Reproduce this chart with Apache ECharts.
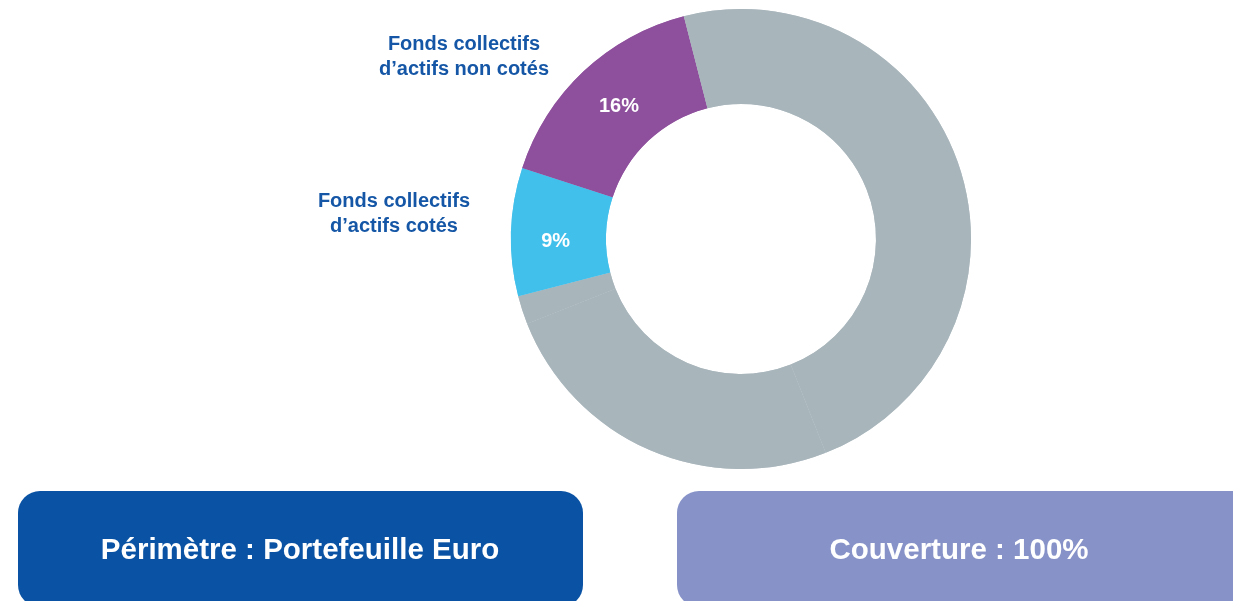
<!DOCTYPE html>
<html>
<head>
<meta charset="utf-8">
<script src="https://cdn.jsdelivr.net/npm/echarts@6/dist/echarts.min.js"></script>
<style>
  html, body { margin: 0; padding: 0; background: #fff; }
  #d_chart { width: 1233px; height: 601px; }
</style>
</head>
<body>
<div id="d_chart"></div>
<script>
// slices clockwise from 12 o'clock
var categories = ['Autres 1', 'Autres 2', 'Autres 3', 'Fonds collectifs\nd\u2019actifs cotés', 'Fonds collectifs\nd\u2019actifs non cotés', 'Autres 4']
var values = [44, 25, 2, 9, 16, 4]
var colors = ['#a8b5bb', '#a8b5bb', '#a8b5bb', '#42c0ec', '#8e4f9c', '#a8b5bb']
var labelled = [false, false, false, true, true, false]
var boxTexts = ['Périmètre : Portefeuille Euro', 'Couverture : 100%']

var font = '"Liberation Sans", Arial, Helvetica, sans-serif'
var chart = echarts.init(document.getElementById('d_chart'))

var pieData = values.map(function (v, i) {
  return {
    name: categories[i],
    value: v,
    itemStyle: { color: colors[i] }
  }
})

// outer label spots (center of text block)
var outerSpots = { 3: [394, 214], 4: [464, 57] }
// small nudges for the percent labels
var innerNudge = { 3: [0, 8], 4: [5, 3] }

var option = {
  animation: false,
  series: [{
    type: 'pie',
    center: [741, 239],
    radius: [135, 230],
    startAngle: 90,
    clockwise: true,
    silent: true,
    itemStyle: { borderColor: 'rgba(255,255,255,0.45)', borderWidth: 0.6 },
    label: {
      position: 'inside',
      color: '#fff',
      fontFamily: font,
      fontWeight: 'bold',
      fontSize: 20,
      formatter: function (p) {
        return labelled[p.dataIndex] ? p.value + '%' : ''
      }
    },
    labelLayout: function (p) {
      var n = innerNudge[p.dataIndex]
      if (!n) return {}
      return { dx: n[0], dy: n[1] }
    },
    labelLine: { show: false },
    data: pieData
  }, {
    type: 'pie',
    center: [741, 239],
    radius: [135, 230],
    startAngle: 90,
    clockwise: true,
    silent: true,
    itemStyle: { color: 'transparent', borderWidth: 0 },
    label: {
      position: 'outside',
      color: '#1557a6',
      fontFamily: font,
      fontWeight: 'bold',
      fontSize: 20,
      lineHeight: 25,
      align: 'center',
      formatter: function (p) {
        return labelled[p.dataIndex] ? p.name : ''
      }
    },
    labelLine: { show: false },
    labelLayout: function (p) {
      var s = outerSpots[p.dataIndex]
      if (!s) return {}
      return { x: s[0], y: s[1], align: 'center', verticalAlign: 'middle' }
    },
    data: pieData
  }],
  graphic: [{
    type: 'group',
    children: [{
      type: 'rect',
      shape: { x: 18, y: 491, width: 565, height: 116, r: 22 },
      style: { fill: '#0a53a4' }
    }, {
      type: 'text',
      x: 300, y: 551,
      style: {
        text: boxTexts[0], fill: '#fff', font: 'bold 29.5px ' + font,
        align: 'center', verticalAlign: 'middle'
      }
    }, {
      type: 'rect',
      shape: { x: 677, y: 491, width: 600, height: 116, r: 22 },
      style: { fill: '#8793c8' }
    }, {
      type: 'text',
      x: 959, y: 551,
      style: {
        text: boxTexts[1], fill: '#fff', font: 'bold 29.5px ' + font,
        align: 'center', verticalAlign: 'middle'
      }
    }]
  }]
}
chart.setOption(option, true)
window.addEventListener('resize', function () {
  chart.resize()
})
</script>
</body>
</html>
